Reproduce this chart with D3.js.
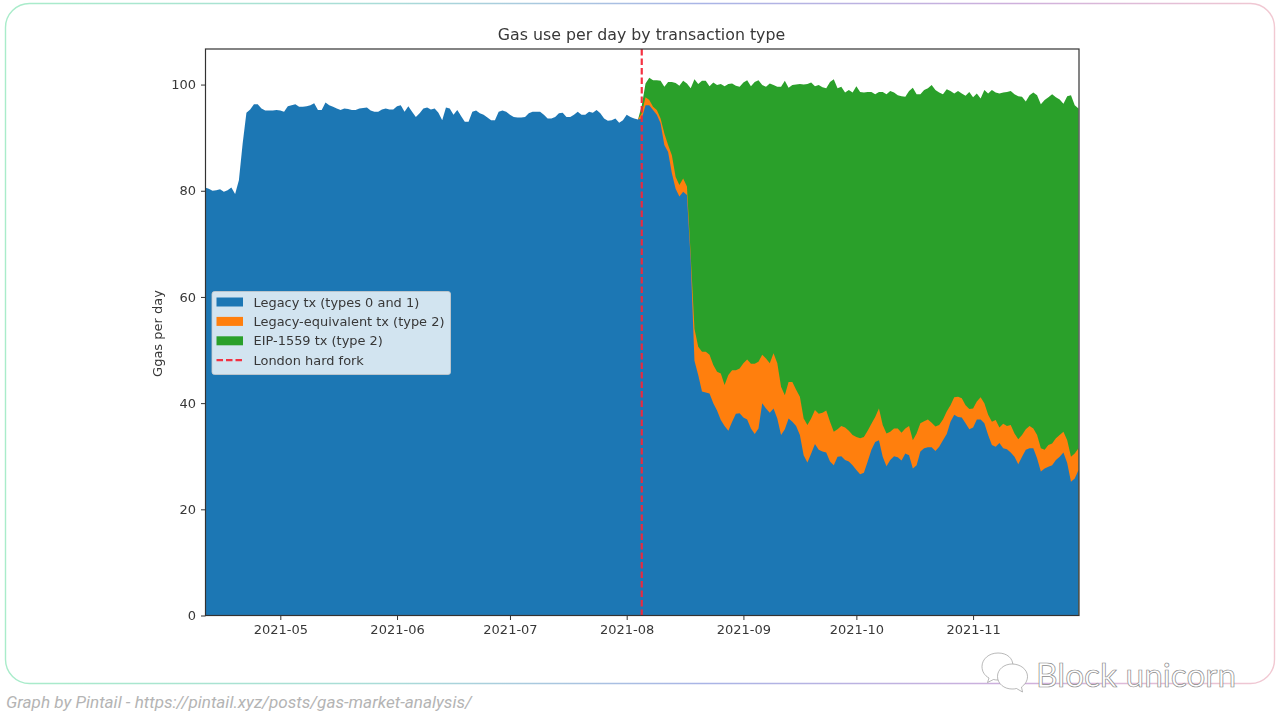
<!DOCTYPE html>
<html><head><meta charset="utf-8">
<script src="https://cdn.jsdelivr.net/npm/d3@7"></script>
<style>html,body{margin:0;padding:0;background:#fff;overflow:hidden}svg{display:block}</style>
</head><body><svg id="c" width="1280" height="728"></svg>
<script>
const chartTitle = "Gas use per day by transaction type";
const yLabel = "Ggas per day";
const caption = "Graph by Pintail - https://pintail.xyz/posts/gas-market-analysis/";
const watermark = "Block unicorn";
const startDate = "2021-04-11";
const forkDate = "2021-08-05";
const legendLabels = ["Legacy tx (types 0 and 1)","Legacy-equivalent tx (type 2)","EIP-1559 tx (type 2)","London hard fork"];
const colors = ["#1f77b4","#ff7f0e","#2ca02c"];
const xTickLabels = ["2021-05","2021-06","2021-07","2021-08","2021-09","2021-10","2021-11"];
const yTicks = [0,20,40,60,80,100];

// before the fork: one value per day from startDate (day 0 to day 114)
const preLegacy = [80.6,80.4,80,80.1,80.3,79.8,80.1,80.6,79.4,82,88.9,94.7,95.3,96.3,96.3,95.5,95.1,95.1,95.1,95.2,95.1,94.9,95.9,96.1,96.3,95.8,95.8,95.9,96.1,96.5,95.2,95.2,96.6,96.1,95.8,95.5,95.2,95.5,95.4,95.2,95.2,95.5,95.6,95.7,95.1,94.9,94.9,95.3,95.5,95.3,95.3,95.9,96.1,94.9,95.9,94.9,93.9,94.6,95.5,95.7,95.3,95.5,94.7,93.3,95.7,95.5,94.3,95.2,94.1,93,93,94.9,95.1,94.6,94.3,93.8,93.3,93.3,94.9,95.1,94.9,94.3,93.9,93.8,93.8,93.9,94.6,94.9,94.9,94.9,94.3,93.6,93.6,93.9,94.6,94.7,93.9,93.9,94.3,94.9,94.3,94.3,94.9,94.7,95.2,94.6,93.6,93.2,93.3,93.6,92.8,93.3,94.3,93.9,93.6];

// after the fork: one value per day from day 115 to day 232 (stack tops)
const postStartDay = 115;
const postLegacy = [93.4,93.6,96.1,96.1,95.2,94.3,92.7,88.6,87.3,83.3,80.4,78.9,79.8,79.2,67,48,45.3,42.2,42,41.8,40,38.6,36.8,35.7,34.8,36.5,38,38.1,37.3,36.9,35.2,34.2,35.2,40,39,38.2,39,37.1,34,35.1,37.1,36.5,35.7,34,30.2,28.8,30.5,32.3,31.2,30.9,30.7,29,28.3,29.9,30,29.3,29,28.3,27.4,26.6,26.9,29,31.2,32.7,33,29.9,28.1,29.3,30,29.8,29.2,30.5,30.2,27.7,28.3,30.9,31.5,31.7,31.7,31,31.8,33,34.2,36.5,37.8,37.4,37.3,36.2,35.1,35.4,36.9,36.9,36.2,34,32.1,31.8,32.5,31.5,31.3,30.7,29.9,28.5,29.9,31.2,31.5,31.5,29.6,27.1,27.7,28,28.3,29.3,29.9,30.7,28.7,25.2,25.8,27.4];
const postEquivTop = [93.4,94.6,97.6,97.1,95.8,95.2,93.6,90.8,88.6,86.7,82.6,81.1,82.3,80.8,67.8,54,50.6,49.7,49.7,49.1,47.2,45.9,45.6,43.4,45.3,46.2,46.2,46.5,47.5,48.2,47.4,47.4,47.8,49.1,48.4,47.5,49.4,47.5,43.1,41.5,44,44,42.5,41.2,37.1,35.9,37.1,38.7,38,38.2,38.6,36.5,34.6,35.1,35.7,35.4,34.8,34,33.6,33.4,33.6,34.8,36.1,37.4,39,35.9,34.3,34.6,35.2,35.2,34.4,35.2,35.7,33,34.3,36.2,36.6,36.9,36.3,35.6,35.9,36.9,38.4,39.6,41.1,41.2,40.9,39.6,38.9,39,40.3,41.1,40,37.8,36.5,36.8,35.4,36.1,35.7,35.9,34.3,33.2,34,35.1,35.7,35.2,34,31.5,31.2,32.1,32.4,33.4,34,34.6,33,29.9,30.5,31.5];
const postTotalTop = [93.4,96,100.2,101.3,100.8,100.8,100.7,99.6,100.5,100.5,100.3,99.8,100.7,100.2,99.3,101,100.1,100.7,100.7,99.7,100.4,99.9,100.1,99.7,100.1,100.2,99.8,99.6,100.4,100.8,99.7,100.5,100.8,99.9,99.6,100.2,99.9,99.6,99.6,100.7,99.4,99.9,100,100.1,100,100.1,100.4,99.7,99.9,99.5,99.3,100.5,101,99.3,99.6,98.5,99,98.5,99.7,98.6,98.5,98.6,98.6,98.2,98.6,98.6,98.2,98.8,98.5,98,97.8,97.7,98.8,99.4,98.2,98.2,99,99.3,99.9,99,98.5,98.2,99.1,98.8,98.3,98.8,98.3,97.9,98.6,97.6,98.3,97.4,99,98.3,99,98.5,98.3,98.5,98.6,98.8,98.2,97.8,97.7,96.8,98,98.5,98,96.3,97.1,97.6,98.2,97.6,97.2,96.4,97.8,98,96.1,95.5];

const svg = d3.select("#c");
const font = "'DejaVu Sans',sans-serif";
const textCol = "#383838";
const L=205.5,R=1079,T=49,B=615.5;

const start = d3.utcParse("%Y-%m-%d")(startDate);
const dayToDate = d => d3.utcDay.offset(start,d);
const x = d3.scaleUtc().domain([start,dayToDate(232)]).range([L-0.5,R-0.5]);
const y = d3.scaleLinear().domain([0,106.7]).range([B,T]);

// outer frame and caption
const defs = svg.append("defs");
const grad = defs.append("linearGradient").attr("id","frame").attr("gradientUnits","userSpaceOnUse")
  .attr("x1",5).attr("y1",340).attr("x2",1275).attr("y2",340);
[[0,"#a9ecca"],[.3,"#a9dcd8"],[.55,"#a9b4e6"],[.8,"#cfb0dc"],[1,"#f2c9d2"]].forEach(s=>grad.append("stop").attr("offset",s[0]).attr("stop-color",s[1]));
defs.append("filter").attr("id","soft").attr("x","-5%").attr("y","-5%").attr("width","110%").attr("height","110%")
  .append("feGaussianBlur").attr("stdDeviation",0.65);
svg.append("rect").attr("x",5.5).attr("y",3.5).attr("width",1269).attr("height",680).attr("rx",24)
  .attr("fill","#fff").attr("stroke","url(#frame)").attr("stroke-width",1.4);
svg.append("text").attr("x",6).attr("y",707.5).attr("font-family","Roboto,sans-serif").attr("font-style","italic")
  .attr("font-size",17.1).attr("fill","#b4b4b4").text(caption);

const chart = svg.append("g").attr("filter","url(#soft)");

// stacked areas, drawn back to front from their stack tops
const postRows = postLegacy.map((v,i)=>({date:dayToDate(postStartDay+i),legacy:v,equiv:postEquivTop[i],total:postTotalTop[i]}));
const preRows = preLegacy.map((v,i)=>({date:dayToDate(i),legacy:v}));
const area = key => d3.area().x(d=>x(d.date)).y0(y(0)).y1(d=>y(d[key]));
chart.append("path").attr("d",area("total")(postRows)).attr("fill",colors[2]);
chart.append("path").attr("d",area("equiv")(postRows)).attr("fill",colors[1]);
chart.append("path").attr("d",area("legacy")(preRows.concat(postRows))).attr("fill",colors[0]);

// fork line
const fx = x(d3.utcParse("%Y-%m-%d")(forkDate));
chart.append("line").attr("x1",fx).attr("x2",fx).attr("y1",T).attr("y2",B)
  .attr("stroke","#f4283a").attr("stroke-width",2.2).attr("stroke-dasharray","6.5 3").attr("opacity",.95);

// axes
const xAxis = d3.axisBottom(x).tickValues(xTickLabels.map(d3.utcParse("%Y-%m"))).tickFormat(d3.utcFormat("%Y-%m")).tickSize(4.5).tickPadding(5);
const yAxis = d3.axisLeft(y).tickValues(yTicks).tickSize(4.5).tickPadding(5);
const gx = chart.append("g").attr("transform",`translate(0,${B})`).call(xAxis);
const gy = chart.append("g").attr("transform",`translate(${L},0)`).call(yAxis);
[gx,gy].forEach(g=>{
  g.select(".domain").remove();
  g.selectAll("line").attr("stroke","#333");
  g.selectAll("text").attr("font-family",font).attr("font-size",13).attr("fill",textCol);
});
chart.append("rect").attr("x",L).attr("y",T).attr("width",R-L).attr("height",B-T)
  .attr("fill","none").attr("stroke","#333").attr("stroke-width",1.2);

chart.append("text").attr("x",641.5).attr("y",40).attr("text-anchor","middle")
  .attr("font-family",font).attr("font-size",15.8).attr("fill",textCol).text(chartTitle);
chart.append("text").attr("transform","translate(161.5,333.5) rotate(-90)").attr("text-anchor","middle")
  .attr("font-family",font).attr("font-size",13).attr("fill",textCol).text(yLabel);

// legend
const lg = chart.append("g");
lg.append("rect").attr("x",212).attr("y",291.5).attr("width",238.5).attr("height",83).attr("rx",2.5)
  .attr("fill","#fff").attr("fill-opacity",.8).attr("stroke","#ccc").attr("stroke-opacity",.8);
legendLabels.forEach((t,i)=>{
  const cy = 302 + i*19.4;
  if(i<3) lg.append("rect").attr("x",216.5).attr("y",cy-4.5).attr("width",26.5).attr("height",9).attr("fill",colors[i]);
  else lg.append("line").attr("x1",216.5).attr("x2",243).attr("y1",cy).attr("y2",cy)
    .attr("stroke","#f4283a").attr("stroke-width",2.2).attr("stroke-dasharray","6.5 3").attr("opacity",.95);
  lg.append("text").attr("x",253.5).attr("y",cy+4.5).attr("font-family",font).attr("font-size",12.95).attr("fill",textCol).text(t);
});

// watermark
const wm = svg.append("g").attr("fill","#fff").attr("stroke","#8a8a8a").attr("stroke-width",.6);
wm.append("path").attr("d","M998,653c-9,0-16,6-16,13.5c0,5,2.5,9,7,11.500l-1.500,4.500l6,-3c1.500,.5,3,.5,4.500,.5c9,0,15,-6,15,-14s-6,-13,-15,-13z");
wm.append("path").attr("d","M1012,664c-8,0-14.500,5.500-14.500,12.500s6.500,12.500,14.500,12.500c1.500,0,3,0,4.500,-.5l6,3.500l-1,-5c3.500,-2.500,6,-6,6,-10.500c0,-7,-7,-12.500,-15.500,-12.500z");
wm.append("text").attr("x",1036).attr("y",687).attr("font-family","Lato,sans-serif").attr("font-size",33.4).attr("stroke-width",.7).text(watermark);
</script></body></html>
